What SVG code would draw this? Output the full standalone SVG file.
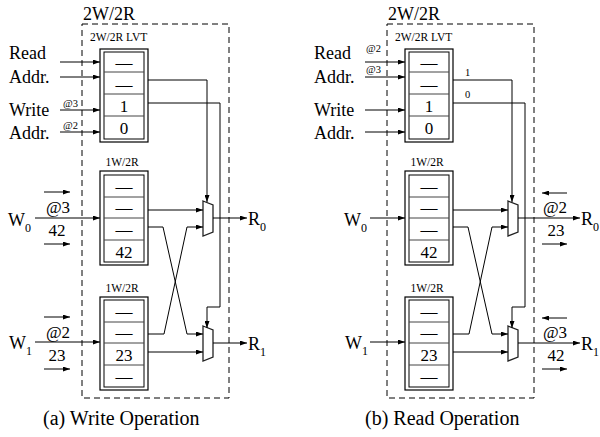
<svg xmlns="http://www.w3.org/2000/svg" width="600" height="437" viewBox="0 0 600 437">
<style>
text{font-family:"Liberation Serif","Times New Roman",serif;fill:#000}
.t18{font-size:18px}
.t17{font-size:17px}
.sm{font-size:11.5px}
.xs{font-size:10.5px}
.cap{font-size:20px}
.box{fill:#fff;stroke:#000;stroke-width:1.2}
.row{fill:none;stroke:#000;stroke-width:1}
.div{stroke:#444;stroke-width:1}
.dash{fill:none;stroke:#000;stroke-width:1;stroke-dasharray:6 4}
.ln{fill:none;stroke:#000;stroke-width:1}
.arr{fill:none;stroke:#000;stroke-width:1;marker-end:url(#ah)}
.mux{fill:#fff;stroke:#222;stroke-width:1.3}
.mid{text-anchor:middle}
</style>
<defs>
<marker id="ah" markerWidth="7" markerHeight="5" refX="7" refY="2.5" orient="auto" markerUnits="userSpaceOnUse">
<path d="M0,0 L7,2.5 L0,5 z" fill="#000"/>
</marker>
<g id="lvtShape">
<rect class="box" x="100" y="49" width="48" height="93"/>
<rect class="row" x="104" y="52" width="40" height="87"/>
<line class="div" x1="104" y1="72" x2="144" y2="72"/>
<line class="div" x1="104" y1="94" x2="144" y2="94"/>
<line class="div" x1="104" y1="116" x2="144" y2="116"/>
</g>
</defs>

<!-- ===== Panel (a) ===== -->
<g id="a-frame">
<rect class="dash" x="82" y="24" width="147" height="374"/>
<text class="t18" x="83" y="20">2W/2R</text>
</g>

<g id="a-lvt">
<text class="sm" x="90" y="41">2W/2R LVT</text>
<use href="#lvtShape"/>
<text class="t17 mid" x="124" y="68">—</text>
<text class="t17 mid" x="124" y="90">—</text>
<text class="t17 mid" x="124" y="112">1</text>
<text class="t17 mid" x="124" y="134">0</text>
</g>

<g id="a-bank0">
<text class="sm mid" x="122" y="166">1W/2R</text>
<rect class="box" x="100" y="171" width="48" height="94"/>
<rect class="row" x="104" y="175" width="40" height="87"/>
<line class="div" x1="104" y1="197" x2="144" y2="197"/>
<line class="div" x1="104" y1="218" x2="144" y2="218"/>
<line class="div" x1="104" y1="240" x2="144" y2="240"/>
<text class="t17 mid" x="124" y="192">—</text>
<text class="t17 mid" x="124" y="213">—</text>
<text class="t17 mid" x="124" y="235">—</text>
<text class="t17 mid" x="124" y="258">42</text>
</g>

<g id="a-bank1">
<text class="sm mid" x="122" y="292">1W/2R</text>
<rect class="box" x="100" y="297" width="48" height="93"/>
<rect class="row" x="104" y="300" width="40" height="87"/>
<line class="div" x1="104" y1="322" x2="144" y2="322"/>
<line class="div" x1="104" y1="343" x2="144" y2="343"/>
<line class="div" x1="104" y1="365" x2="144" y2="365"/>
<text class="t17 mid" x="124" y="317">—</text>
<text class="t17 mid" x="124" y="338">—</text>
<text class="t17 mid" x="124" y="361">23</text>
<text class="t17 mid" x="124" y="382">—</text>
</g>

<g id="a-mux0"><polygon class="mux" points="203,201 213,205 213,232 203,236"/></g>
<g id="a-mux1"><polygon class="mux" points="203,326 213,330 213,357 203,361"/></g>

<g id="a-inputs">
<text class="t18" x="9" y="59">Read</text>
<text class="t18" x="9" y="83">Addr.</text>
<text class="t18" x="9" y="116">Write</text>
<text class="t18" x="9" y="139">Addr.</text>
<text class="xs" x="63" y="107">@3</text>
<text class="xs" x="63" y="129">@2</text>
<text class="t18" x="8" y="226">W<tspan font-size="12" dy="6">0</tspan></text>
<text class="t17 mid" x="58" y="213">@3</text>
<text class="t17 mid" x="57" y="236">42</text>
<text class="t18" x="9" y="349">W<tspan font-size="12" dy="6">1</tspan></text>
<text class="t17 mid" x="58" y="338">@2</text>
<text class="t17 mid" x="57" y="361">23</text>
</g>

<g id="a-outputs">
<text class="t18" x="248" y="225">R<tspan font-size="12" dy="6">0</tspan></text>
<text class="t18" x="248" y="350">R<tspan font-size="12" dy="6">1</tspan></text>
</g>

<g id="a-caption"><text class="cap" x="43" y="425">(a) Write Operation</text></g>

<g id="a-connectors">
<line class="arr" x1="60" y1="62" x2="100" y2="62"/>
<line class="arr" x1="60" y1="77" x2="100" y2="77"/>
<line class="arr" x1="60" y1="110" x2="100" y2="110"/>
<line class="arr" x1="60" y1="132" x2="100" y2="132"/>
<line class="arr" x1="35" y1="218" x2="100" y2="218"/>
<line class="arr" x1="44" y1="192" x2="70" y2="192"/>
<line class="arr" x1="44" y1="244" x2="70" y2="244"/>
<line class="arr" x1="35" y1="342" x2="100" y2="342"/>
<line class="arr" x1="44" y1="317" x2="70" y2="317"/>
<line class="arr" x1="44" y1="369" x2="70" y2="369"/>
<polyline class="arr" points="148,80 207,80 207,202"/>
<polyline class="arr" points="148,103 220,103 220,307 207,307 207,328"/>
<line class="arr" x1="148" y1="210" x2="203" y2="210"/>
<polyline class="arr" points="148,227 163,227 187,334 203,334"/>
<polyline class="arr" points="148,334 164,334 187,227 203,227"/>
<line class="arr" x1="148" y1="352" x2="203" y2="352"/>
<line class="arr" x1="213" y1="218" x2="247" y2="218"/>
<line class="arr" x1="213" y1="343" x2="247" y2="343"/>
</g>

<!-- ===== Panel (b) ===== -->
<g id="b-frame">
<rect class="dash" x="387" y="24" width="147" height="374"/>
<text class="t18" x="388" y="20">2W/2R</text>
</g>

<g id="b-lvt">
<text class="sm" x="395" y="41">2W/2R LVT</text>
<use href="#lvtShape" x="305"/>
<text class="t17 mid" x="429" y="68">—</text>
<text class="t17 mid" x="429" y="90">—</text>
<text class="t17 mid" x="429" y="112">1</text>
<text class="t17 mid" x="429" y="134">0</text>
</g>

<g id="b-bank0">
<text class="sm mid" x="427" y="166">1W/2R</text>
<rect class="box" x="405" y="171" width="48" height="94"/>
<rect class="row" x="409" y="175" width="40" height="87"/>
<line class="div" x1="409" y1="197" x2="449" y2="197"/>
<line class="div" x1="409" y1="218" x2="449" y2="218"/>
<line class="div" x1="409" y1="240" x2="449" y2="240"/>
<text class="t17 mid" x="429" y="192">—</text>
<text class="t17 mid" x="429" y="213">—</text>
<text class="t17 mid" x="429" y="235">—</text>
<text class="t17 mid" x="429" y="258">42</text>
</g>

<g id="b-bank1">
<text class="sm mid" x="427" y="292">1W/2R</text>
<rect class="box" x="405" y="297" width="48" height="93"/>
<rect class="row" x="409" y="300" width="40" height="87"/>
<line class="div" x1="409" y1="322" x2="449" y2="322"/>
<line class="div" x1="409" y1="343" x2="449" y2="343"/>
<line class="div" x1="409" y1="365" x2="449" y2="365"/>
<text class="t17 mid" x="429" y="317">—</text>
<text class="t17 mid" x="429" y="338">—</text>
<text class="t17 mid" x="429" y="361">23</text>
<text class="t17 mid" x="429" y="382">—</text>
</g>

<g id="b-mux0"><polygon class="mux" points="508,201 518,205 518,232 508,236"/></g>
<g id="b-mux1"><polygon class="mux" points="508,326 518,330 518,357 508,361"/></g>

<g id="b-inputs">
<text class="t18" x="314" y="59">Read</text>
<text class="t18" x="314" y="83">Addr.</text>
<text class="t18" x="314" y="116">Write</text>
<text class="t18" x="314" y="139">Addr.</text>
<text class="xs" x="366" y="52">@2</text>
<text class="xs" x="366" y="73">@3</text>
<text class="t18" x="344" y="226">W<tspan font-size="12" dy="6">0</tspan></text>
<text class="t18" x="345" y="349">W<tspan font-size="12" dy="6">1</tspan></text>
</g>

<g id="b-lvt-labels">
<text class="xs" x="465" y="76">1</text>
<text class="xs" x="465" y="98">0</text>
</g>

<g id="b-outputs">
<text class="t17 mid" x="555" y="213">@2</text>
<text class="t17 mid" x="556" y="236">23</text>
<text class="t17 mid" x="555" y="338">@3</text>
<text class="t17 mid" x="556" y="361">42</text>
<text class="t18" x="581" y="225">R<tspan font-size="12" dy="6">0</tspan></text>
<text class="t18" x="581" y="350">R<tspan font-size="12" dy="6">1</tspan></text>
</g>

<g id="b-caption"><text class="cap" x="365" y="425">(b) Read Operation</text></g>

<g id="b-connectors">
<line class="arr" x1="365" y1="62" x2="405" y2="62"/>
<line class="arr" x1="365" y1="77" x2="405" y2="77"/>
<line class="arr" x1="365" y1="110" x2="405" y2="110"/>
<line class="arr" x1="365" y1="132" x2="405" y2="132"/>
<line class="arr" x1="370" y1="218" x2="405" y2="218"/>
<line class="arr" x1="370" y1="342" x2="405" y2="342"/>
<polyline class="arr" points="453,80 512,80 512,202"/>
<polyline class="arr" points="453,103 525,103 525,307 512,307 512,328"/>
<line class="arr" x1="453" y1="210" x2="508" y2="210"/>
<polyline class="arr" points="453,227 468,227 492,334 508,334"/>
<polyline class="arr" points="453,334 469,334 492,227 508,227"/>
<line class="arr" x1="453" y1="352" x2="508" y2="352"/>
<line class="arr" x1="518" y1="218" x2="580" y2="218"/>
<line class="arr" x1="518" y1="343" x2="580" y2="343"/>
<line class="arr" x1="567" y1="193" x2="542" y2="193"/>
<line class="arr" x1="542" y1="244" x2="567" y2="244"/>
<line class="arr" x1="567" y1="318" x2="542" y2="318"/>
<line class="arr" x1="542" y1="369" x2="567" y2="369"/>
</g>
</svg>
